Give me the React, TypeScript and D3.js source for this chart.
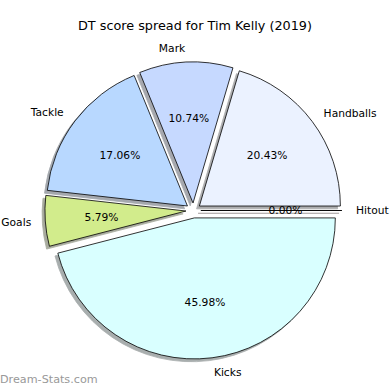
import React, { useMemo } from 'react';
import * as d3 from 'd3';

// stats (percent of DT score)
const categories = ['Handballs', 'Mark', 'Tackle', 'Goals', 'Kicks', 'Hitout'];
const shares = [20.43, 10.74, 17.06, 5.79, 45.98, 0.0];
const sliceColors = ['#ebf2ff', '#c6d9ff', '#b8d8ff', '#d2ec8c', '#d9ffff', '#ffd9d9'];

const title = 'DT score spread for Tim Kelly (2019)';
const watermark = 'Dream-Stats.com';

const width = 390;
const height = 390;
const cx = 193.4;
const cy = 210.5;
const radius = 141;
const explode = 0.053;
const labelDistance = 1.1;
const pctDistance = 0.6;
const shadowOffset = 0.02;
const font = 'DejaVu Sans, sans-serif';

const App: React.FC = () => {
  const slices = useMemo(() => {
    // counterclockwise from 3 o'clock, like matplotlib
    const pie = d3.pie<number>()
      .sort(null)
      .value(d => d)
      .startAngle(Math.PI / 2)
      .endAngle(Math.PI / 2 - 2 * Math.PI);
    return pie(shares).map((p, i) => {
      const a0 = Math.min(p.startAngle, p.endAngle);
      const a1 = Math.max(p.startAngle, p.endAngle);
      const mid = (a0 + a1) / 2; // d3 angle, clockwise from north
      const ux = Math.sin(mid);
      const uy = -Math.cos(mid);
      return { i, a0, a1, ux, uy, value: shares[i] };
    });
  }, []);

  const arc = d3.arc<any>()
    .innerRadius(0)
    .outerRadius(radius)
    .startAngle(d => d.a0)
    .endAngle(d => d.a1);

  const total = d3.sum(shares);
  const pct = (v: number) => `${((v / total) * 100).toFixed(2)}%`;

  return (
    <div style={{ position: 'fixed', left: 0, top: 0 }}>
      <svg width={width} height={height} viewBox={`0 0 ${width} ${height}`} style={{ display: 'block', background: '#fff' }}>
        <text x={width / 2} y={29.5} textAnchor="middle" fontFamily={font} fontSize={12.8} fill="#000">
          {title}
        </text>

        {/* shadows underneath every wedge */}
        <g>
          {slices.map(s => {
            const c = d3.rgb(sliceColors[s.i]);
            const sh = d3.rgb(c.r * 0.3, c.g * 0.3, c.b * 0.3).toString();
            const ox = cx + s.ux * explode * radius - shadowOffset * radius;
            const oy = cy + s.uy * explode * radius + shadowOffset * radius;
            return (
              <path key={`sh-${s.i}`} d={arc(s) || ''} transform={`translate(${ox},${oy})`}
                fill={sh} stroke={sh} strokeWidth={0.8} opacity={0.45} />
            );
          })}
        </g>

        <g>
          {slices.map(s => {
            const ox = cx + s.ux * explode * radius;
            const oy = cy + s.uy * explode * radius;
            return (
              <path key={`w-${s.i}`} d={arc(s) || ''} transform={`translate(${ox},${oy})`}
                fill={sliceColors[s.i]} stroke="#000" strokeWidth={0.8} strokeLinejoin="round" />
            );
          })}
        </g>

        <g fontFamily={font} fontSize={10.7} fill="#000">
          {slices.map(s => {
            const bx = cx + s.ux * explode * radius;
            const by = cy + s.uy * explode * radius;
            const lx = bx + s.ux * labelDistance * radius;
            const ly = by + s.uy * labelDistance * radius;
            const px = bx + s.ux * pctDistance * radius;
            const py = by + s.uy * pctDistance * radius;
            return (
              <g key={`t-${s.i}`}>
                <text x={lx} y={ly} dy="0.35em" textAnchor={lx > cx ? 'start' : 'end'}>
                  {categories[s.i]}
                </text>
                <text x={px} y={py} dy="0.35em" textAnchor="middle">
                  {pct(s.value)}
                </text>
              </g>
            );
          })}
        </g>

        <text x={0} y={383} fontFamily={font} fontSize={11.2} fill="#999999">
          {watermark}
        </text>
      </svg>
    </div>
  );
};

export default App;
